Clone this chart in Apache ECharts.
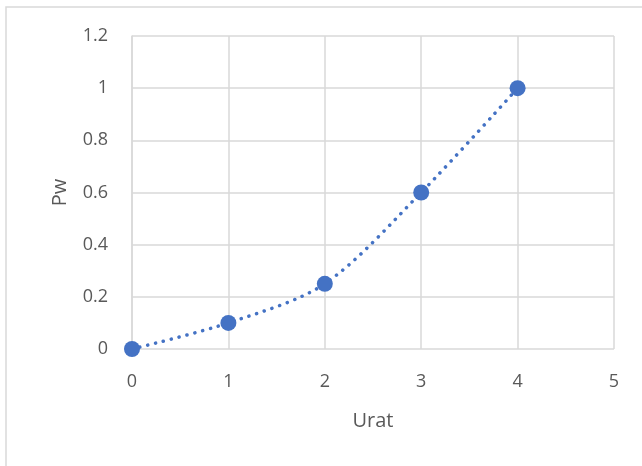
<!DOCTYPE html>
<html>
<head>
<meta charset="utf-8">
<script src="https://cdn.jsdelivr.net/npm/echarts@6/dist/echarts.min.js"></script>
<style>
  html, body { margin: 0; padding: 0; background: #fff; }
  #chart { width: 642px; height: 466px; }
</style>
</head>
<body>
<div id="chart"></div>
<script>
// Measured values: rated-speed ratio vs. power
const uratValues = [0, 1, 2, 3, 4];
const pwValues = [0, 0.1, 0.25, 0.6, 1];
const xTicks = [0, 1, 2, 3, 4, 5];
const yTicks = [0, 0.2, 0.4, 0.6, 0.8, 1, 1.2];

const points = uratValues.map((u, i) => [u, pwValues[i]]);

const chart = echarts.init(document.getElementById('chart'));
const labelFont = { fontFamily: 'Open Sans, Liberation Sans, sans-serif', fontSize: 18, color: '#595959' };

chart.setOption({
  backgroundColor: '#fff',
  animation: false,
  graphic: [{
    type: 'rect',
    shape: { x: 6, y: 7, width: 700, height: 520 },
    style: { fill: 'none', stroke: '#d9d9d9', lineWidth: 1.5 },
    silent: true
  }],
  grid: { left: 132, right: 28, top: 36, bottom: 117 },
  xAxis: {
    type: 'value',
    min: xTicks[0],
    max: xTicks[xTicks.length - 1],
    interval: 1,
    name: 'Urat',
    nameLocation: 'middle',
    nameGap: 62,
    nameTextStyle: Object.assign({}, labelFont, { fontSize: 20 }),
    axisLine: { show: false },
    axisTick: { show: false },
    axisLabel: Object.assign({ margin: 24 }, labelFont),
    splitLine: { show: true, lineStyle: { color: '#d9d9d9', width: 1.5 } }
  },
  yAxis: {
    type: 'value',
    min: yTicks[0],
    max: yTicks[yTicks.length - 1],
    interval: 0.2,
    name: 'Pw',
    nameLocation: 'middle',
    nameGap: 62,
    nameTextStyle: Object.assign({}, labelFont, { fontSize: 20 }),
    axisLine: { show: true, lineStyle: { color: '#d9d9d9', width: 1.5 } },
    axisTick: { show: false },
    axisLabel: Object.assign({ margin: 24, formatter: v => String(+v.toFixed(1)) }, labelFont),
    splitLine: { show: true, lineStyle: { color: '#d9d9d9', width: 1.5 } }
  },
  series: [
    {
      name: 'trend',
      type: 'line',
      data: points,
      smooth: 0.3,
      showSymbol: false,
      symbol: 'none',
      lineStyle: { color: '#4472c4', width: 3.5, type: [0.1, 8], cap: 'round' },
      z: 2
    },
    {
      name: 'Pw',
      type: 'scatter',
      data: points,
      symbolSize: 16,
      itemStyle: { color: '#4472c4', opacity: 1 },
      z: 3
    }
  ]
});
</script>
</body>
</html>
